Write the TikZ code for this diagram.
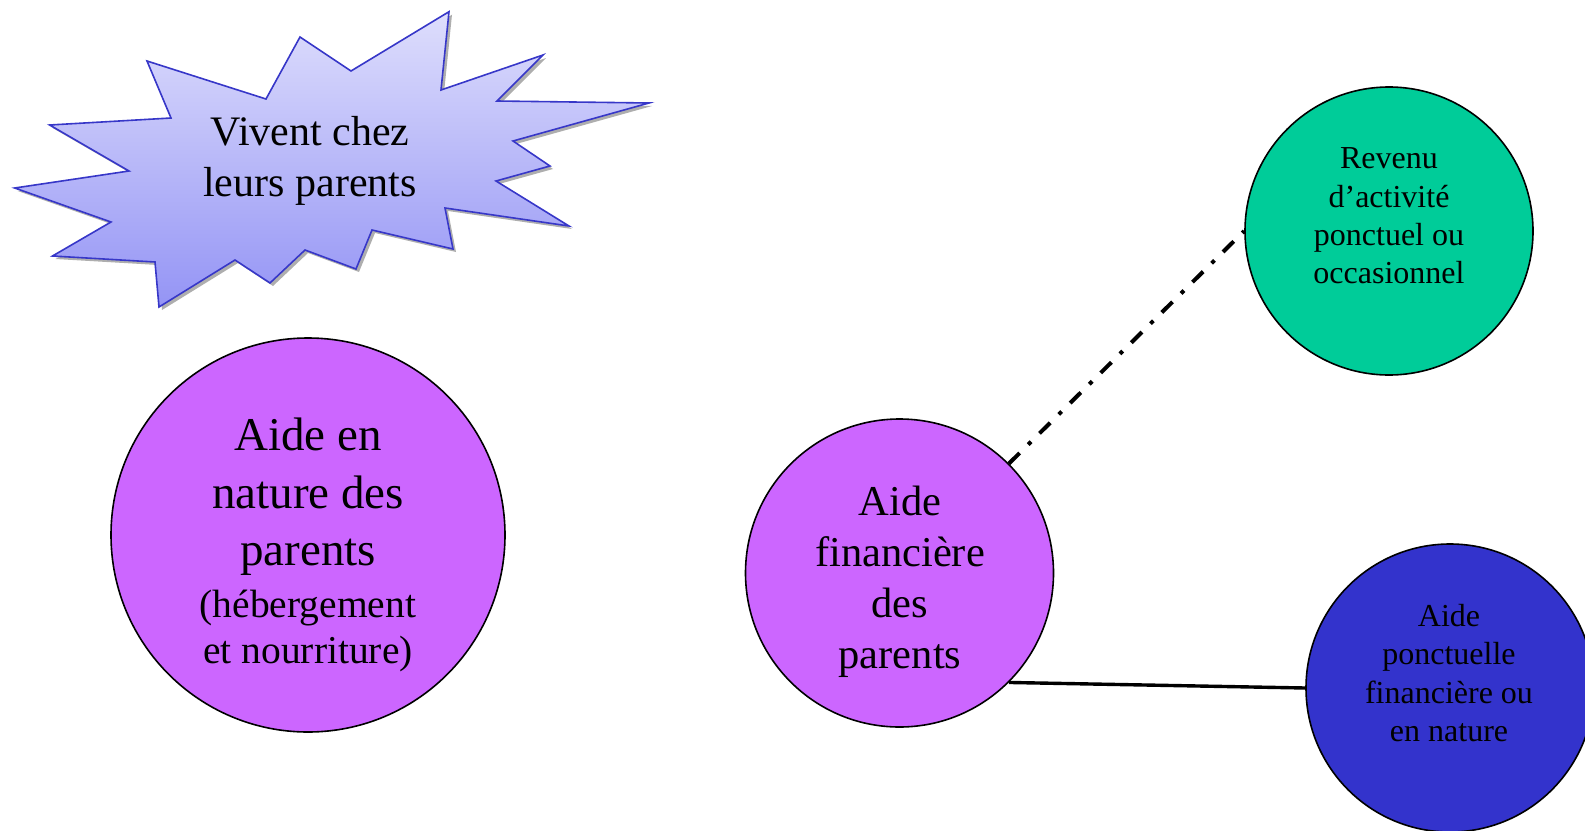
\documentclass[tikz,border=0pt]{standalone}
\usepackage{fontspec}
\setmainfont{Liberation Serif}
\usetikzlibrary{shadows}
\definecolor{burstfill1}{RGB}{222,222,252}
\definecolor{burstfill2}{RGB}{148,148,245}
\definecolor{burstline}{RGB}{55,55,200}
\definecolor{purplec}{RGB}{204,102,255}
\definecolor{greenc}{RGB}{0,204,153}
\definecolor{bluec}{RGB}{51,51,204}
\tikzset{
  bubble/.style={circle, draw=black, line width=1.6pt, inner sep=0pt},
  lbl/.style={align=center, inner sep=0pt, text=black},
  dashdotline/.style={line width=4pt, dash pattern=on 15pt off 12pt on 4pt off 12pt},
  plainline/.style={line width=3.4pt}
}
\begin{document}
\begin{tikzpicture}[x=1pt,y=-1pt]
\useasboundingbox (0,0) rectangle (1585,830);
\clip (0,0) rectangle (1585,830);
% starburst
\path[draw=burstline, line width=1.6pt, top color=burstfill1, bottom color=burstfill2,
  drop shadow={shadow xshift=3pt, shadow yshift=-3pt, fill=black!45, opacity=0.7}]
  (449,11.7) -- (441,90) -- (543,55) -- (497,101) -- (649,103) -- (513,141)
  -- (550,166) -- (496,181) -- (569,226) -- (445,208) -- (453,249) -- (372,230)
  -- (356,269) -- (305,250) -- (270,283) -- (235,260) -- (159,307) -- (155,262)
  -- (52.5,256) -- (111,222) -- (14.7,188) -- (129,171) -- (49.6,125) -- (171,118)
  -- (147,61) -- (266,99) -- (300,37) -- (351,71) -- cycle;
\node[lbl, font=\fontsize{42}{50.5}\selectfont] (burst) at (310,161) {Vivent chez\\leurs parents};

% circles
\node[bubble, fill=purplec, minimum size=394pt] (nature) at (308,535) {};
\node[bubble, fill=purplec, minimum size=308pt] (fin) at (899.5,573) {};
\node[bubble, fill=greenc, minimum size=288pt] (rev) at (1389,231) {};
\node[bubble, fill=bluec, minimum size=288pt] (ponc) at (1450,688) {};

% connectors
\draw[dashdotline] (fin.north east) -- (rev.west);
\draw[plainline] (fin.south east) -- (ponc.west);

% texts
\node[lbl, font=\fontsize{47}{57.6}\selectfont] (natureA) at (308,497) {Aide en\\nature des\\parents};
\node[lbl, font=\fontsize{39.5}{46.5}\selectfont] (natureB) at (308,631) {(hébergement\\et nourriture)};
\node[lbl, font=\fontsize{42.5}{51}\selectfont] (finT) at (900,581.5) {Aide\\financière\\des\\parents};
\node[lbl, font=\fontsize{32}{38.3}\selectfont] (revT) at (1389,216) {Revenu\\d’activité\\ponctuel ou\\occasionnel};
\node[lbl, font=\fontsize{32}{38.3}\selectfont] (poncT) at (1449,673) {Aide\\ponctuelle\\financière ou\\en nature};
\end{tikzpicture}
\end{document}
